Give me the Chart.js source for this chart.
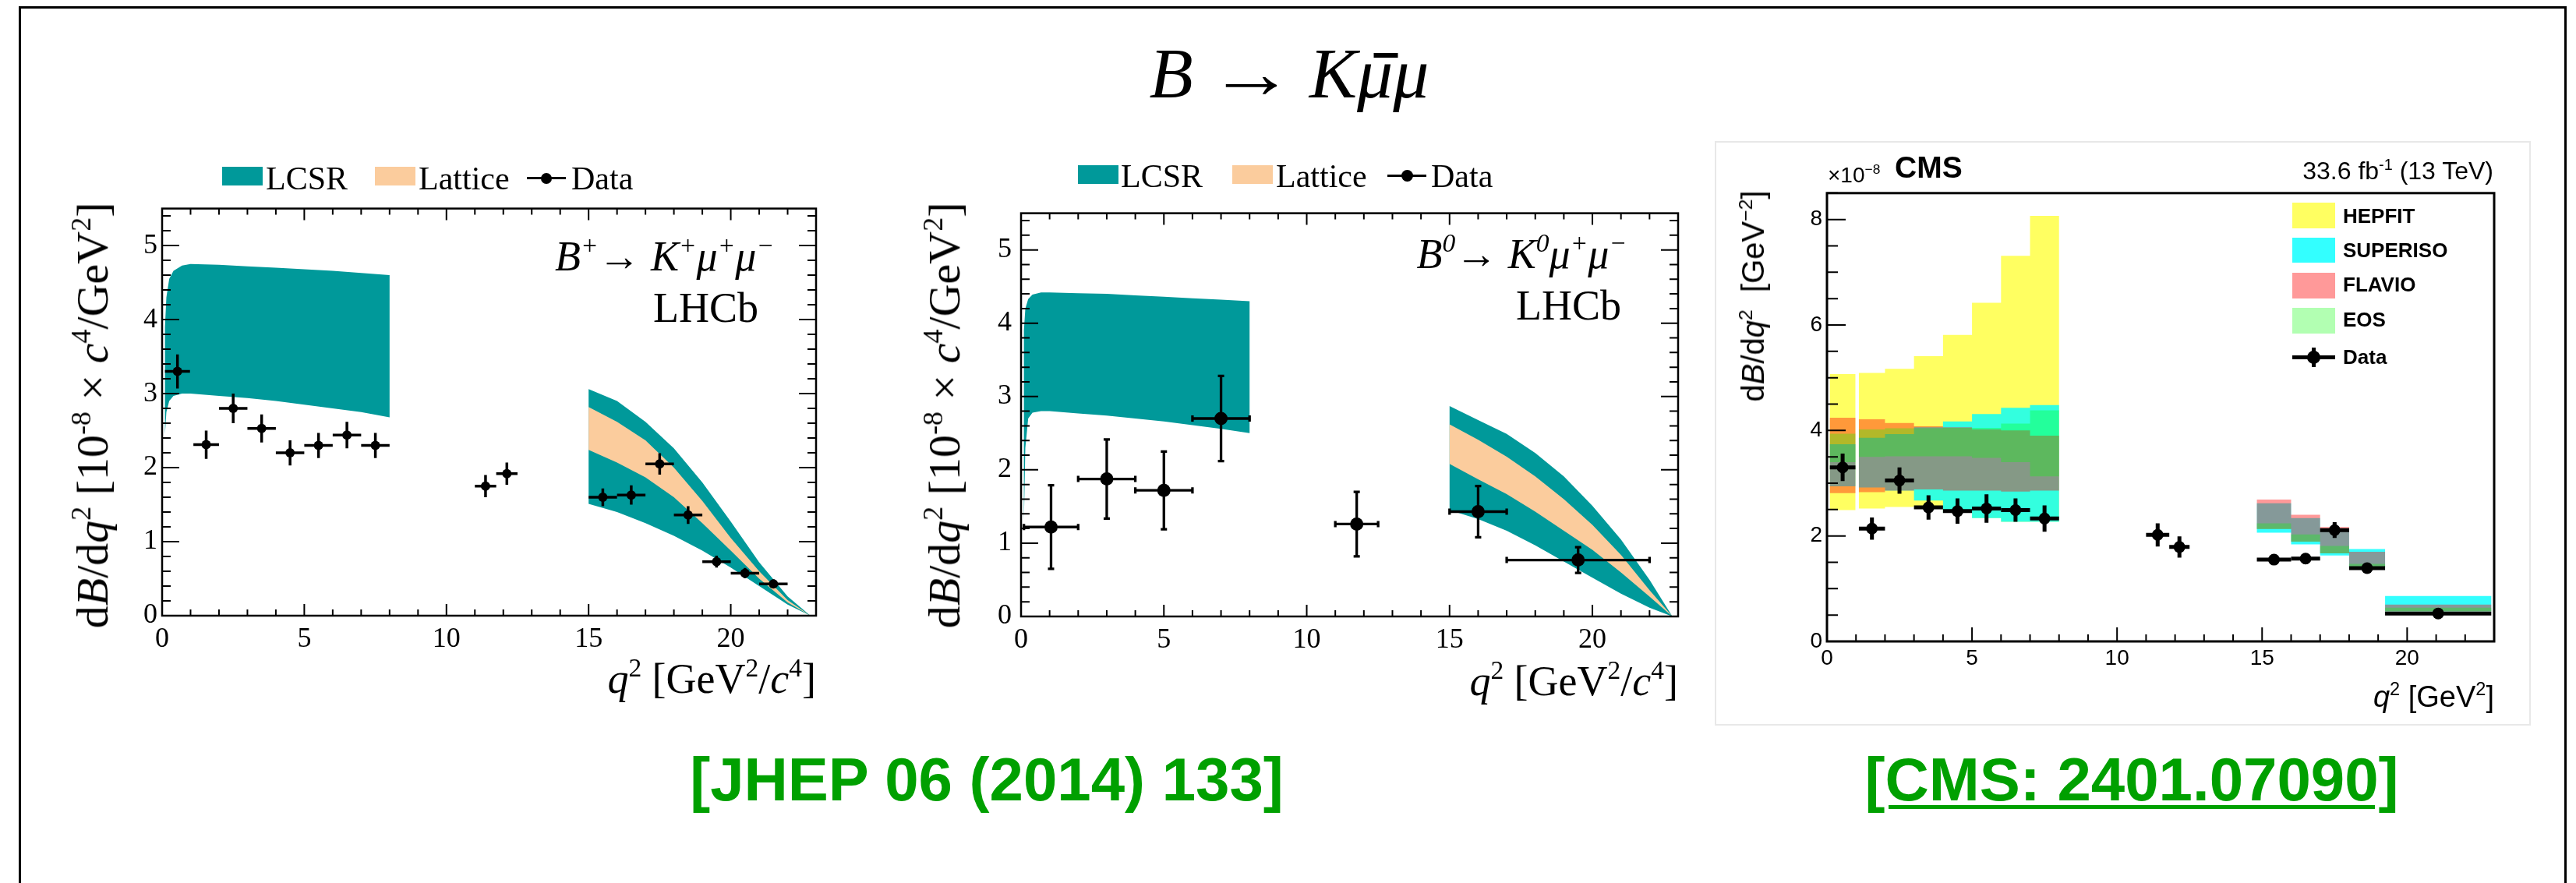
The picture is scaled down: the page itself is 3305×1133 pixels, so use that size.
<!DOCTYPE html>
<html>
<head>
<meta charset="utf-8">
<title>B → Kμμ</title>
<script src="https://cdn.jsdelivr.net/npm/chart.js@4.4.1/dist/chart.umd.min.js"></script>
<style>
  html, body { margin:0; padding:0; background:#fff; }
  body { width:3305px; height:1133px; position:relative; overflow:hidden; }
  .abs { position:absolute; white-space:nowrap; line-height:1; }
  .serif { font-family:"Liberation Serif","Times New Roman",serif; color:#000; }
  .sans { font-family:"Liberation Sans",Arial,Helvetica,sans-serif; color:#000; }
  sup { font-size:0.62em; line-height:0; vertical-align:0; position:relative; top:-0.62em; }
  canvas { position:absolute; }
  .box { position:absolute; }
  .mub { position:relative; }
  .mub::after { content:''; position:absolute; left:0.23em; top:0.27em; width:0.34em; height:6px; background:#000; }
  .rot { transform:translate(-50%,-50%) rotate(-90deg); }
  .link { font-family:"Liberation Sans",Arial,Helvetica,sans-serif; font-weight:bold; color:#00a000; font-size:78px; transform:translateX(-50%); }
</style>
</head>
<body>

<!-- outer frame and CMS panel border -->
<div class="box" style="left:24px;top:8px;width:3263px;height:1200px;border:3px solid #000;"></div>
<div class="box" style="left:2200px;top:181px;width:1043px;height:746px;border:2px solid #e8e8e8;"></div>

<canvas id="cPlus" width="980" height="620" style="left:90px;top:240px;width:980px;height:620px"></canvas>
<canvas id="cZero" width="980" height="620" style="left:1190px;top:240px;width:980px;height:620px"></canvas>
<canvas id="cCms" width="960" height="665" style="left:2260px;top:225px;width:960px;height:665px"></canvas>

<!-- Title -->
<div class="abs serif" style="left:1654px;top:48px;font-size:92px;font-style:italic;transform:translateX(-50%)">B <span style="display:inline-block;transform:scaleX(1.2);margin:0 0.06em">→</span> K<span class="mub">μ</span>μ</div>

<!-- Left panel texts -->
<div class="box" style="left:285px;top:214px;width:52px;height:24px;background:#00999a"></div>
<div class="abs serif" style="left:341px;top:208px;font-size:42px">LCSR</div>
<div class="box" style="left:481px;top:214px;width:52px;height:24px;background:#fbcc9d"></div>
<div class="abs serif" style="left:537px;top:208px;font-size:42px">Lattice</div>
<div class="box" style="left:676px;top:227px;width:50px;height:3px;background:#000"></div>
<div class="box" style="left:694px;top:222px;width:14px;height:14px;border-radius:50%;background:#000"></div>
<div class="abs serif" style="left:733px;top:208px;font-size:42px">Data</div>
<div class="abs serif" style="right:2312px;top:302px;font-size:54px;font-style:italic">B<sup>+</sup>→ K<sup>+</sup>μ<sup>+</sup>μ<sup>−</sup></div>
<div class="abs serif" style="right:2332px;top:368px;font-size:54px">LHCb</div>
<div class="abs serif rot" style="left:119px;top:533px;font-size:58px">d<i>B</i>/d<i>q</i><sup>2</sup> [10<sup>-8</sup> × <i>c</i><sup>4</sup>/GeV<sup>2</sup>]</div>
<div class="abs serif" style="right:2258px;top:844px;font-size:54px"><i>q</i><sup>2</sup> [GeV<sup>2</sup>/<i>c</i><sup>4</sup>]</div>

<!-- Middle panel texts -->
<div class="box" style="left:1383px;top:212px;width:52px;height:24px;background:#00999a"></div>
<div class="abs serif" style="left:1438px;top:205px;font-size:42px">LCSR</div>
<div class="box" style="left:1581px;top:212px;width:52px;height:24px;background:#fbcc9d"></div>
<div class="abs serif" style="left:1637px;top:205px;font-size:42px">Lattice</div>
<div class="box" style="left:1780px;top:224px;width:50px;height:3px;background:#000"></div>
<div class="box" style="left:1798px;top:218px;width:15px;height:15px;border-radius:50%;background:#000"></div>
<div class="abs serif" style="left:1836px;top:205px;font-size:42px">Data</div>
<div class="abs serif" style="right:1218px;top:299px;font-size:54px;font-style:italic">B<sup>0</sup>→ K<sup>0</sup>μ<sup>+</sup>μ<sup>−</sup></div>
<div class="abs serif" style="right:1225px;top:365px;font-size:54px">LHCb</div>
<div class="abs serif rot" style="left:1212px;top:533px;font-size:58px">d<i>B</i>/d<i>q</i><sup>2</sup> [10<sup>-8</sup> × <i>c</i><sup>4</sup>/GeV<sup>2</sup>]</div>
<div class="abs serif" style="right:1152px;top:847px;font-size:54px"><i>q</i><sup>2</sup> [GeV<sup>2</sup>/<i>c</i><sup>4</sup>]</div>

<!-- CMS panel texts -->
<div class="abs sans" style="left:2345px;top:211px;font-size:28px">×10<sup>−8</sup></div>
<div class="abs sans" style="left:2431px;top:195px;font-size:39px;font-weight:bold">CMS</div>
<div class="abs sans" style="right:106px;top:203px;font-size:32px">33.6 fb<sup>-1</sup> (13 TeV)</div>
<div class="box" style="left:2941px;top:260px;width:55px;height:33px;background:rgba(255,255,0,0.62)"></div>
<div class="box" style="left:2941px;top:305px;width:55px;height:32px;background:rgba(0,255,255,0.8)"></div>
<div class="box" style="left:2941px;top:350px;width:55px;height:33px;background:rgba(255,0,0,0.4)"></div>
<div class="box" style="left:2941px;top:395px;width:55px;height:33px;background:rgba(0,255,0,0.3)"></div>
<div class="box" style="left:2941px;top:456px;width:55px;height:5px;background:#000"></div>
<div class="box" style="left:2966px;top:446px;width:5px;height:25px;background:#000"></div>
<div class="box" style="left:2960px;top:450px;width:17px;height:17px;border-radius:50%;background:#000"></div>
<div class="abs sans" style="left:3006px;top:264px;font-size:26px;font-weight:bold">HEPFIT</div>
<div class="abs sans" style="left:3006px;top:308px;font-size:26px;font-weight:bold">SUPERISO</div>
<div class="abs sans" style="left:3006px;top:352px;font-size:26px;font-weight:bold">FLAVIO</div>
<div class="abs sans" style="left:3006px;top:397px;font-size:26px;font-weight:bold">EOS</div>
<div class="abs sans" style="left:3006px;top:445px;font-size:26px;font-weight:bold">Data</div>
<div class="abs sans rot" style="left:2249px;top:380px;font-size:40px">d<i>B</i>/d<i>q</i><sup>2</sup>&nbsp;&nbsp;[GeV<sup>−2</sup>]</div>
<div class="abs sans" style="right:105px;top:875px;font-size:38px"><i>q</i><sup>2</sup> [GeV<sup>2</sup>]</div>

<!-- References -->
<div class="abs link" style="left:1266px;top:961px">[JHEP 06 (2014) 133]</div>
<div class="abs link" style="left:2735px;top:961px;text-decoration:underline;text-decoration-thickness:5px;text-underline-offset:6px">[CMS: 2401.07090]</div>

<script>
// ---------------- DATA ----------------
// Left panel: B+ -> K+ mu+ mu- (LHCb)
const plusBinLo = [0.1, 1.1, 2, 3, 4, 5, 6, 7, 11, 11.75, 15, 16, 17, 18, 19, 20, 21];
const plusBinHi = [0.98, 2, 3, 4, 5, 6, 7, 8, 11.75, 12.5, 16, 17, 18, 19, 20, 21, 22];
const plusQ2    = [0.54, 1.55, 2.5, 3.5, 4.5, 5.5, 6.5, 7.5, 11.375, 12.125, 15.5, 16.5, 17.5, 18.5, 19.5, 20.5, 21.5];
const plusVal   = [3.30, 2.31, 2.80, 2.53, 2.20, 2.30, 2.44, 2.30, 1.75, 1.92, 1.60, 1.63, 2.05, 1.36, 0.73, 0.575, 0.43];
const plusErr   = [0.23, 0.19, 0.20, 0.19, 0.17, 0.17, 0.18, 0.17, 0.15, 0.15, 0.12, 0.13, 0.145, 0.12, 0.08, 0.07, 0.06];

// Left panel: theory bands
const plusLowQ2      = [0.1, 0.15, 0.25, 0.4, 0.7, 1, 2, 3, 4, 5, 6, 7, 8];
const plusLowLcsrUp  = [3.9, 4.3, 4.55, 4.66, 4.73, 4.75, 4.74, 4.72, 4.70, 4.68, 4.66, 4.63, 4.60];
const plusLowLcsrLo  = [2.45, 2.75, 2.9, 2.97, 3.0, 3.0, 2.97, 2.94, 2.90, 2.85, 2.80, 2.75, 2.68];
const plusHighQ2     = [15, 16, 17, 18, 19, 20, 21, 22, 22.8];
const plusHighLcsrUp = [3.06, 2.90, 2.62, 2.26, 1.80, 1.27, 0.72, 0.26, 0];
const plusHighLcsrLo = [1.51, 1.40, 1.25, 1.08, 0.88, 0.65, 0.40, 0.15, 0];
const plusHighLatUp  = [2.82, 2.62, 2.37, 2.00, 1.55, 1.05, 0.60, 0.21, 0];
const plusHighLatLo  = [2.24, 2.07, 1.87, 1.60, 1.25, 0.88, 0.50, 0.18, 0];

// Middle panel: B0 -> K0 mu+ mu- (LHCb)
const zeroBinLo = [0.1, 2, 4, 6, 11, 15, 17];
const zeroBinHi = [2, 4, 6, 8, 12.5, 17, 22];
const zeroQ2    = [1.05, 3, 5, 7, 11.75, 16, 19.5];
const zeroVal   = [1.22, 1.875, 1.72, 2.70, 1.26, 1.43, 0.77];
const zeroErr   = [0.57, 0.54, 0.53, 0.58, 0.44, 0.35, 0.175];

const zeroLowQ2      = [0.1, 0.15, 0.25, 0.4, 0.7, 1, 2, 3, 4, 5, 6, 7, 8];
const zeroLowLcsrUp  = [3.9, 4.2, 4.33, 4.39, 4.42, 4.42, 4.41, 4.40, 4.38, 4.36, 4.34, 4.32, 4.30];
const zeroLowLcsrLo  = [1.3, 2.3, 2.7, 2.78, 2.80, 2.80, 2.77, 2.74, 2.70, 2.66, 2.61, 2.56, 2.50];
const zeroHighQ2     = [15, 16, 17, 18, 19, 20, 21, 22, 22.8];
const zeroHighLcsrUp = [2.87, 2.68, 2.49, 2.23, 1.91, 1.51, 1.05, 0.50, 0];
const zeroHighLcsrLo = [1.45, 1.33, 1.17, 0.97, 0.75, 0.53, 0.31, 0.12, 0];
const zeroHighLatUp  = [2.62, 2.41, 2.18, 1.91, 1.60, 1.25, 0.84, 0.36, 0];
const zeroHighLatLo  = [2.08, 1.87, 1.67, 1.43, 1.17, 0.91, 0.60, 0.27, 0];

// Right panel: CMS
const cmsBinLo = [0.1, 1.1, 2, 3, 4, 5, 6, 7, 11, 11.8, 14.82, 16, 17, 18, 19.24];
const cmsBinHi = [0.98, 2, 3, 4, 5, 6, 7, 8, 11.8, 12.5, 16, 17, 18, 19.24, 22.9];
const cmsQ2    = [0.54, 1.55, 2.5, 3.5, 4.5, 5.5, 6.5, 7.5, 11.4, 12.15, 15.41, 16.5, 17.5, 18.62, 21.07];
const cmsVal   = [3.30, 2.14, 3.05, 2.54, 2.47, 2.52, 2.49, 2.33, 2.02, 1.79, 1.55, 1.57, 2.11, 1.39, 0.53];
const cmsErr   = [0.26, 0.21, 0.25, 0.23, 0.24, 0.27, 0.22, 0.25, 0.22, 0.20, 0.10, 0.10, 0.15, 0.07, 0.04];

const hepfitLo   = [2.49, 2.52, 2.55, 2.57, 2.44, 2.34, 2.27, 2.27, null, null, null, null, null, null, null];
const hepfitHi   = [5.07, 5.09, 5.17, 5.41, 5.81, 6.42, 7.31, 8.07, null, null, null, null, null, null, null];
const superisoLo = [2.94, 2.92, 2.86, 2.67, 2.44, 2.34, 2.27, 2.27, null, null, 2.06, 1.84, 1.63, 1.40, 0.57];
const superisoHi = [3.74, 3.86, 3.93, 4.06, 4.17, 4.31, 4.43, 4.48, null, null, 2.62, 2.34, 2.14, 1.75, 0.86];
const flavioLo   = [2.81, 2.83, 2.86, 2.88, 2.86, 2.86, 2.84, 2.86, null, null, 2.13, 1.89, 1.67, 1.42, 0.57];
const flavioHi   = [4.24, 4.21, 4.14, 4.08, 4.06, 4.02, 4.00, 3.90, null, null, 2.69, 2.40, 2.17, 1.70, 0.70];
const eosLo      = [3.40, 3.50, 3.51, 3.51, 3.51, 3.48, 3.40, 3.13, null, null, 2.13, 1.89, 1.67, 1.42, 0.57];
const eosHi      = [3.94, 4.02, 4.04, 4.04, 4.05, 4.05, 4.13, 4.38, null, null, 2.24, 2.03, 1.81, 1.47, 0.64];

// ---------------- HELPERS ----------------
const TEAL = '#00999a', PEACH = '#fbcc9d';
const SERIF = '"Liberation Serif", "Times New Roman", serif';
const SANS = '"Liberation Sans", Arial, Helvetica, sans-serif';

function bandPolygon(xs, ups, los) {
  const pts = xs.map((x, i) => ({x: x, y: ups[i]}));
  for (let i = xs.length - 1; i >= 0; i--) pts.push({x: xs[i], y: los[i]});
  return pts;
}
function stepGroups(lo, hi, los, his) {
  const groups = [];
  let cur = null;
  for (let i = 0; i < lo.length; i++) {
    if (los[i] === null) { cur = null; continue; }
    if (!cur || Math.abs(lo[i] - hi[i - 1]) > 1e-9) { cur = []; groups.push(cur); }
    cur.push(i);
  }
  return groups.map(idx => {
    const pts = [];
    idx.forEach(i => { pts.push({x: lo[i], y: his[i]}, {x: hi[i], y: his[i]}); });
    idx.slice().reverse().forEach(i => { pts.push({x: hi[i], y: los[i]}, {x: lo[i], y: los[i]}); });
    return pts;
  });
}
function band(pts, color, order) {
  return {data: pts, fill: 'shape', backgroundColor: color, borderColor: 'rgba(0,0,0,0)',
          borderWidth: 0, pointRadius: 0, pointHoverRadius: 0, tension: 0, order: order};
}
function points(q2, val, err, lo, hi, r, w, cap) {
  return {data: q2.map((x, i) => ({x: x, y: val[i]})), showLine: false, pointRadius: r,
          pointHoverRadius: r, pointBackgroundColor: '#000', pointBorderWidth: 0, order: 0,
          errX: lo.map((l, i) => [l, hi[i]]), errY: err, errWidth: w, cap: cap};
}

const frameTicks = {
  id: 'frameTicks',
  afterDatasetsDraw(chart, args, o) {
    const {ctx, chartArea: a} = chart;
    const xs = chart.scales.x, ys = chart.scales.y;
    const seq = (min, max, step) => { const n = Math.floor((max - min) / step + 1e-6); const out = []; for (let i = 0; i <= n; i++) out.push(min + i * step); return out; };
    const major = (v, step) => Math.abs(v / step - Math.round(v / step)) < 1e-6;
    ctx.save();
    ctx.strokeStyle = '#000';
    ctx.lineWidth = o.tickWidth;
    ctx.beginPath();
    for (const v of seq(xs.min, xs.max, o.xMinor)) {
      const p = xs.getPixelForValue(v);
      const len = major(v, o.xMajor) ? o.xMajLen : o.xMinLen;
      ctx.moveTo(p, a.bottom); ctx.lineTo(p, a.bottom - len);
      if (o.mirror) { ctx.moveTo(p, a.top); ctx.lineTo(p, a.top + len); }
    }
    for (const v of seq(ys.min, ys.max, o.yMinor)) {
      const p = ys.getPixelForValue(v);
      const len = major(v, o.yMajor) ? o.yMajLen : o.yMinLen;
      ctx.moveTo(a.left, p); ctx.lineTo(a.left + len, p);
      if (o.mirror) { ctx.moveTo(a.right, p); ctx.lineTo(a.right - len, p); }
    }
    ctx.stroke();
    ctx.lineWidth = o.frameWidth;
    ctx.strokeRect(a.left, a.top, a.right - a.left, a.bottom - a.top);
    ctx.restore();
  }
};

const errorBars = {
  id: 'errorBars',
  afterDatasetsDraw(chart) {
    const {ctx} = chart;
    const xs = chart.scales.x, ys = chart.scales.y;
    chart.data.datasets.forEach(ds => {
      if (!ds.errY) return;
      ctx.save();
      ctx.strokeStyle = '#000';
      ctx.lineWidth = ds.errWidth;
      ds.data.forEach((p, k) => {
        const px = xs.getPixelForValue(p.x), py = ys.getPixelForValue(p.y);
        const x1 = xs.getPixelForValue(ds.errX[k][0]), x2 = xs.getPixelForValue(ds.errX[k][1]);
        const y1 = ys.getPixelForValue(p.y - ds.errY[k]), y2 = ys.getPixelForValue(p.y + ds.errY[k]);
        ctx.beginPath();
        ctx.moveTo(x1, py); ctx.lineTo(x2, py);
        ctx.moveTo(px, y1); ctx.lineTo(px, y2);
        if (ds.cap) {
          ctx.moveTo(x1, py - ds.cap); ctx.lineTo(x1, py + ds.cap);
          ctx.moveTo(x2, py - ds.cap); ctx.lineTo(x2, py + ds.cap);
          ctx.moveTo(px - ds.cap, y1); ctx.lineTo(px + ds.cap, y1);
          ctx.moveTo(px - ds.cap, y2); ctx.lineTo(px + ds.cap, y2);
        }
        ctx.stroke();
      });
      ctx.restore();
    });
  }
};

function makeChart(id, datasets, g) {
  return new Chart(document.getElementById(id), {
    type: 'line',
    data: {datasets: datasets},
    plugins: [frameTicks, errorBars],
    options: {
      responsive: false, animation: false, devicePixelRatio: 1,
      events: [],
      layout: {padding: g.padding},
      plugins: {legend: {display: false}, tooltip: {enabled: false}, title: {display: false},
                frameTicks: g.ticks},
      scales: {
        x: {type: 'linear', min: 0, max: 23,
            ticks: {stepSize: 5, includeBounds: false, maxRotation: 0, autoSkip: false,
                    color: '#000', font: {family: g.font, size: g.fontSize}, padding: g.xPad},
            grid: {display: false, drawTicks: false}, border: {display: false},
            afterFit: s => { s.height = g.xHeight; }},
        y: {type: 'linear', min: 0, max: g.yMax,
            ticks: {stepSize: g.yStep, includeBounds: false, autoSkip: false,
                    color: '#000', font: {family: g.font, size: g.fontSize}, padding: g.yPad},
            grid: {display: false, drawTicks: false}, border: {display: false},
            afterFit: s => { s.width = g.yWidth; }}
      }
    }
  });
}

const lhcbTicks = {xMajor: 5, xMinor: 1, yMajor: 1, yMinor: 0.2, xMajLen: 15, xMinLen: 8,
                   yMajLen: 22, yMinLen: 11, mirror: true, tickWidth: 2, frameWidth: 2.5};

// Left chart
makeChart('cPlus', [
  band(bandPolygon(plusLowQ2, plusLowLcsrUp, plusLowLcsrLo), TEAL, 5),
  band(bandPolygon(plusHighQ2, plusHighLcsrUp, plusHighLcsrLo), TEAL, 5),
  band(bandPolygon(plusHighQ2, plusHighLatUp, plusHighLatLo), PEACH, 4),
  points(plusQ2, plusVal, plusErr, plusBinLo, plusBinHi, 6, 3.5, 0)
], {padding: {top: 15, right: 23, left: 0, bottom: 0}, yWidth: 118, xHeight: 70, yMax: 5.5, yStep: 1,
    font: SERIF, fontSize: 36, xPad: 9, yPad: 6, ticks: lhcbTicks});

// Middle chart
makeChart('cZero', [
  band(bandPolygon(zeroLowQ2, zeroLowLcsrUp, zeroLowLcsrLo), TEAL, 5),
  band(bandPolygon(zeroHighQ2, zeroHighLcsrUp, zeroHighLcsrLo), TEAL, 5),
  band(bandPolygon(zeroHighQ2, zeroHighLatUp, zeroHighLatLo), PEACH, 4),
  points(zeroQ2, zeroVal, zeroErr, zeroBinLo, zeroBinHi, 8.5, 3.3, 4)
], {padding: {top: 16, right: 17, left: 0, bottom: 0}, yWidth: 120, xHeight: 69, yMax: 5.5, yStep: 1,
    font: SERIF, fontSize: 36, xPad: 9, yPad: 12, ticks: lhcbTicks});

// CMS chart
const cmsSets = [];
const models = [
  [hepfitLo, hepfitHi, 'rgba(255,255,0,0.62)', 10],
  [superisoLo, superisoHi, 'rgba(0,255,255,0.8)', 9],
  [flavioLo, flavioHi, 'rgba(255,0,0,0.4)', 8],
  [eosLo, eosHi, 'rgba(0,255,0,0.3)', 7]
];
models.forEach(([lo, hi, col, ord]) => {
  stepGroups(cmsBinLo, cmsBinHi, lo, hi).forEach(pts => cmsSets.push(band(pts, col, ord)));
});
cmsSets.push(points(cmsQ2, cmsVal, cmsErr, cmsBinLo, cmsBinHi, 7.5, 5, 0));
makeChart('cCms', cmsSets,
  {padding: {top: 14, right: 20, left: 0, bottom: 0}, yWidth: 84, xHeight: 67, yMax: 8.5, yStep: 2,
   font: SANS, fontSize: 28, xPad: 5, yPad: 6,
   ticks: {xMajor: 5, xMinor: 1, yMajor: 2, yMinor: 0.5, xMajLen: 18, xMinLen: 9,
           yMajLen: 24, yMinLen: 14, mirror: false, tickWidth: 2, frameWidth: 3}});
</script>
</body>
</html>
